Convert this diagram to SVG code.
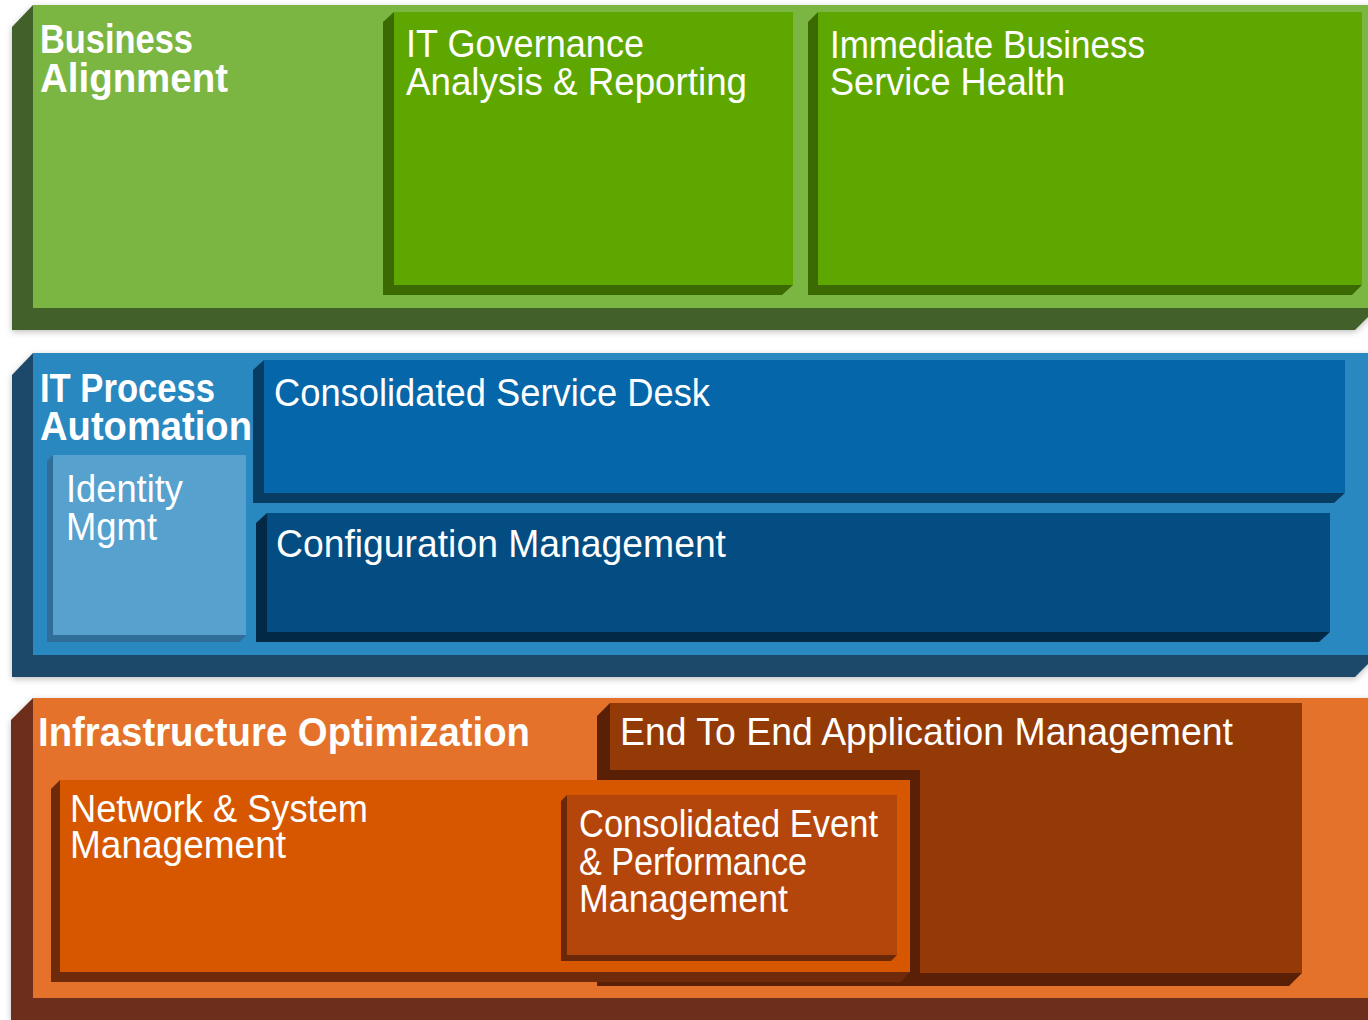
<svg xmlns="http://www.w3.org/2000/svg" width="1368" height="1020" viewBox="0 0 1368 1020">
  <defs>
    <filter id="soft" x="-5%" y="-5%" width="110%" height="115%">
      <feDropShadow dx="0" dy="2" stdDeviation="3" flood-color="#000" flood-opacity="0.25"/>
    </filter>
    <style>
      .t { font-family: "Liberation Sans", Arial, sans-serif; fill: #ffffff; font-size: 39px; }
      .tb { font-family: "Liberation Sans", Arial, sans-serif; fill: #ffffff; font-size: 40px; font-weight: bold; }
      .gPanel { fill: #7cb642; }
      .gPanelSide { fill: #43612c; }
      .gBox { fill: #5da700; }
      .gBoxSide { fill: #3b6a03; }
      .bPanel { fill: #2a88c0; }
      .bPanelSide { fill: #1b4a6b; }
      .bDesk { fill: #0566a9; }
      .bDeskSide { fill: #073d63; }
      .bConf { fill: #034d82; }
      .bConfSide { fill: #022a47; }
      .bId { fill: #57a1cf; }
      .bIdSide { fill: #2f6e98; }
      .oPanel { fill: #e5722a; }
      .oPanelSide { fill: #6d2e1b; }
      .oE2E { fill: #933a07; }
      .oE2ESide { fill: #5a2006; }
      .oNet { fill: #d65700; }
      .oNetSide { fill: #6e2a0a; }
      .oCE { fill: #b4460b; }
      .oCESide { fill: #6a2808; }
    </style>
  </defs>
  <rect x="0" y="0" width="1368" height="1020" fill="#ffffff"/>

  <!-- Business Alignment layer -->
  <g id="business-alignment">
    <polygon class="gPanelSide" filter="url(#soft)" points="33,5 12,27 12,330 1355,330 1377,308 1377,5"/>
    <rect class="gPanel" x="33" y="5" width="1344" height="303"/>
    <text class="tb" x="40" y="53" textLength="153" lengthAdjust="spacingAndGlyphs">Business</text>
    <text class="tb" x="40" y="92" textLength="188" lengthAdjust="spacingAndGlyphs">Alignment</text>
  </g>
  <g id="it-governance">
    <polygon class="gBoxSide" points="394,12 383,22 383,295 782,295 793,285 793,12"/>
    <rect class="gBox" x="394" y="12" width="399" height="273"/>
    <text class="t" x="406" y="57" textLength="238" lengthAdjust="spacingAndGlyphs">IT Governance</text>
    <text class="t" x="406" y="95" textLength="341" lengthAdjust="spacingAndGlyphs">Analysis &amp; Reporting</text>
  </g>
  <g id="immediate-business">
    <polygon class="gBoxSide" points="818,12 808,22 808,295 1352,295 1362,285 1362,12"/>
    <rect class="gBox" x="818" y="12" width="544" height="273"/>
    <text class="t" x="830" y="58" textLength="315" lengthAdjust="spacingAndGlyphs">Immediate Business</text>
    <text class="t" x="830" y="95" textLength="235" lengthAdjust="spacingAndGlyphs">Service Health</text>
  </g>

  <!-- IT Process Automation layer -->
  <g id="it-process-automation">
    <polygon class="bPanelSide" filter="url(#soft)" points="33,353 12,375 12,677 1355,677 1377,655 1377,353"/>
    <rect class="bPanel" x="33" y="353" width="1344" height="302"/>
    <text class="tb" x="40" y="402" textLength="175" lengthAdjust="spacingAndGlyphs">IT Process</text>
    <text class="tb" x="40" y="440" textLength="212" lengthAdjust="spacingAndGlyphs">Automation</text>
  </g>
  <g id="consolidated-service-desk">
    <polygon class="bDeskSide" points="264,360 253,370 253,503 1334,503 1345,493 1345,360"/>
    <rect class="bDesk" x="264" y="360" width="1081" height="133"/>
    <text class="t" x="274" y="406" textLength="436" lengthAdjust="spacingAndGlyphs">Consolidated Service Desk</text>
  </g>
  <g id="configuration-management">
    <polygon class="bConfSide" points="267,513 256,523 256,642 1319,642 1330,632 1330,513"/>
    <rect class="bConf" x="267" y="513" width="1063" height="119"/>
    <text class="t" x="276" y="557" textLength="450" lengthAdjust="spacingAndGlyphs">Configuration Management</text>
  </g>
  <g id="identity-mgmt">
    <polygon class="bIdSide" points="53,455 47,461 47,642 240,642 246,635 246,455"/>
    <rect class="bId" x="53" y="455" width="193" height="180"/>
    <text class="t" x="66" y="502" textLength="117" lengthAdjust="spacingAndGlyphs">Identity</text>
    <text class="t" x="66" y="540" textLength="91" lengthAdjust="spacingAndGlyphs">Mgmt</text>
  </g>

  <!-- Infrastructure Optimization layer -->
  <g id="infrastructure-optimization">
    <polygon class="oPanelSide" filter="url(#soft)" points="33,698 11,720 11,1020 1377,1020 1377,698"/>
    <rect class="oPanel" x="33" y="698" width="1344" height="300"/>
    <text class="tb" x="38" y="746" textLength="492" lengthAdjust="spacingAndGlyphs">Infrastructure Optimization</text>
  </g>
  <g id="end-to-end-application-management">
    <polygon class="oE2ESide" points="610,703 597,716 597,986 1289,986 1302,973 1302,703"/>
    <rect class="oE2E" x="610" y="703" width="692" height="270"/>
    <rect class="oE2ESide" x="597" y="770" width="323" height="215"/>
    <text class="t" x="620" y="745" textLength="613" lengthAdjust="spacingAndGlyphs">End To End Application Management</text>
  </g>
  <g id="network-system-management">
    <polygon class="oNetSide" points="60,780 51,789 51,982 901,982 910,972 910,780"/>
    <rect class="oNet" x="60" y="780" width="850" height="192"/>
    <text class="t" x="70" y="822" textLength="298" lengthAdjust="spacingAndGlyphs">Network &amp; System</text>
    <text class="t" x="70" y="858" textLength="216" lengthAdjust="spacingAndGlyphs">Management</text>
  </g>
  <g id="consolidated-event-performance">
    <polygon class="oCESide" points="567,795 561,801 561,961 891,961 897,955 897,795"/>
    <rect class="oCE" x="567" y="795" width="330" height="160"/>
    <text class="t" x="579" y="837" textLength="299" lengthAdjust="spacingAndGlyphs">Consolidated Event</text>
    <text class="t" x="579" y="875" textLength="228" lengthAdjust="spacingAndGlyphs">&amp; Performance</text>
    <text class="t" x="579" y="912" textLength="209" lengthAdjust="spacingAndGlyphs">Management</text>
  </g>

  <g id="connectors"></g>
</svg>
